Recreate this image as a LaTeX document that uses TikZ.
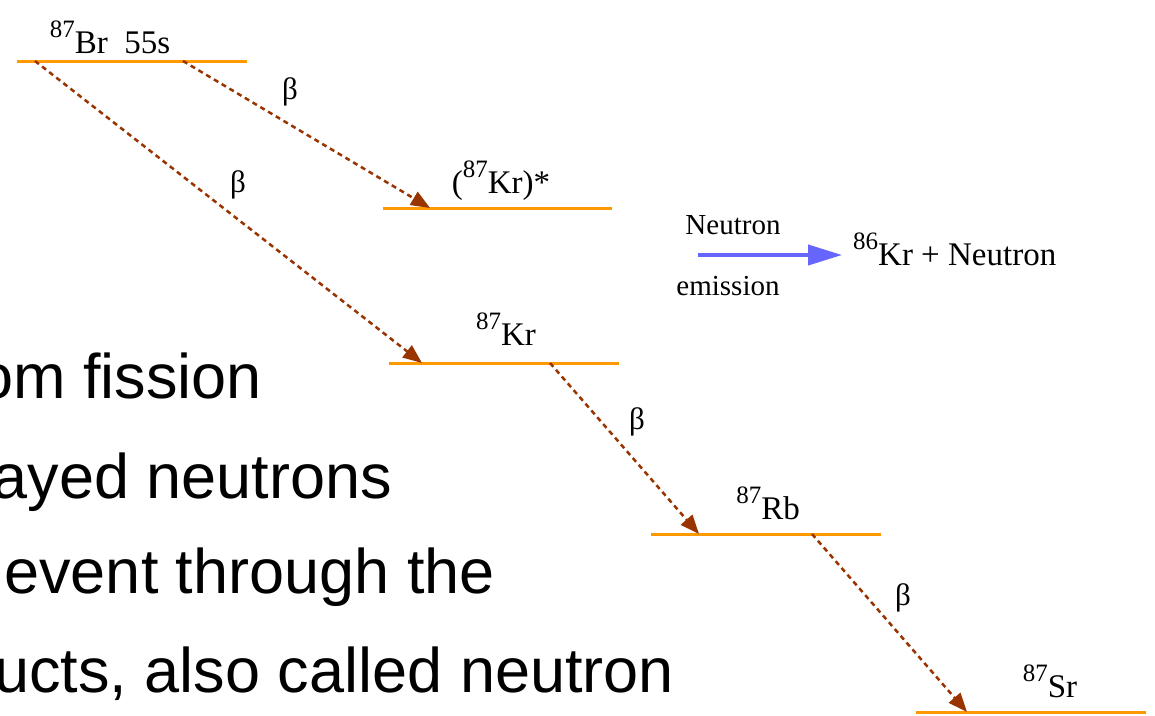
\documentclass[tikz,border=0pt]{standalone}
\usepackage{fontspec}
\setmainfont{Liberation Serif}
\newfontfamily\slidefont{Liberation Sans}
\usetikzlibrary{arrows.meta}
\definecolor{levelorange}{RGB}{255,153,0}
\definecolor{decaybrown}{RGB}{153,51,0}
\definecolor{emitblue}{RGB}{102,102,255}
\newcommand{\nuc}[2]{\raisebox{16pt}{\fontsize{25}{25}\selectfont #1}#2}
\begin{document}
\begin{tikzpicture}[x=1pt,y=-1pt,
  level/.style={draw=levelorange,line width=3pt},
  decay/.style={draw=decaybrown,line width=2.5pt,dash pattern=on 5pt off 4pt,
    -{Triangle[length=19pt,width=15pt,fill=decaybrown]}},
  emit/.style={draw=emitblue,line width=4pt,-{Triangle[length=34pt,width=20pt,fill=emitblue]}},
  lab/.style={inner sep=0pt,anchor=base,font=\fontsize{33}{33}\selectfont},
  small/.style={inner sep=0pt,anchor=base,font=\fontsize{29}{29}\selectfont},
  beta/.style={inner sep=0pt,font=\fontsize{31}{31}\selectfont},
  slide/.style={inner sep=0pt,anchor=base east,font=\slidefont\fontsize{63}{63}\selectfont}]
\useasboundingbox (0,0) rectangle (1155,715);
\fill[white] (0,0) rectangle (1155,715);

% slide text, cut at the left edge as in the reference
\begin{scope}
\clip (0,0) rectangle (1155,715);
\node[slide] (t1) at (262,398) {om fission};
\node[slide] (t2) at (392,498) {ayed neutrons};
\node[slide] (t3) at (495,593) {event through the};
\node[slide] (t4) at (674,692) {ucts, also called neutron};
\end{scope}

% levels
\coordinate (brL) at (17,61);   \coordinate (brR) at (247,61);
\coordinate (kxL) at (383,208); \coordinate (kxR) at (612,208);
\coordinate (krL) at (389,363); \coordinate (krR) at (619,363);
\coordinate (rbL) at (651,534); \coordinate (rbR) at (881,534);
\coordinate (srL) at (916,712); \coordinate (srR) at (1146,712);
\draw[level] (brL) -- (brR);
\draw[level] (kxL) -- (kxR);
\draw[level] (krL) -- (krR);
\draw[level] (rbL) -- (rbR);
\draw[level] (srL) -- (srR);

% level labels
\node[lab] (brlab) at (110,53) {\nuc{87}{Br}\hspace{0.5em}55s};
\node[lab] (kxlab) at (501,193) {(\nuc{87}{Kr})*};
\node[lab] (krlab) at (506,345) {\nuc{87}{Kr}};
\node[lab] (rblab) at (768,519) {\nuc{87}{Rb}};
\node[lab] (srlab) at (1050,697) {\nuc{87}{Sr}};

% decay arrows
\coordinate (d1s) at (183,61);  \coordinate (d1e) at (430,208);
\coordinate (d2s) at (35,61);   \coordinate (d2e) at (422,363);
\coordinate (d3s) at (550,363); \coordinate (d3e) at (699,534);
\coordinate (d4s) at (812,534); \coordinate (d4e) at (967,712);
\draw[decay] (d1s) -- (d1e);
\draw[decay] (d2s) -- (d2e);
\draw[decay] (d3s) -- (d3e);
\draw[decay] (d4s) -- (d4e);

\node[beta] (b1) at (290,92) {β};
\node[beta] (b2) at (238,185) {β};
\node[beta] (b3) at (637,422) {β};
\node[beta] (b4) at (903,598) {β};

% neutron emission
\coordinate (eS) at (698,255);
\node[lab,anchor=base west] (prod) at (853,265) {\nuc{86}{Kr} + Neutron};
\coordinate (eE) at (842,255);
\draw[emit] (eS) -- (eE);
\node[small] (ne1) at (733,234) {Neutron};
\node[small] (ne2) at (728,295) {emission};
\end{tikzpicture}
\end{document}
